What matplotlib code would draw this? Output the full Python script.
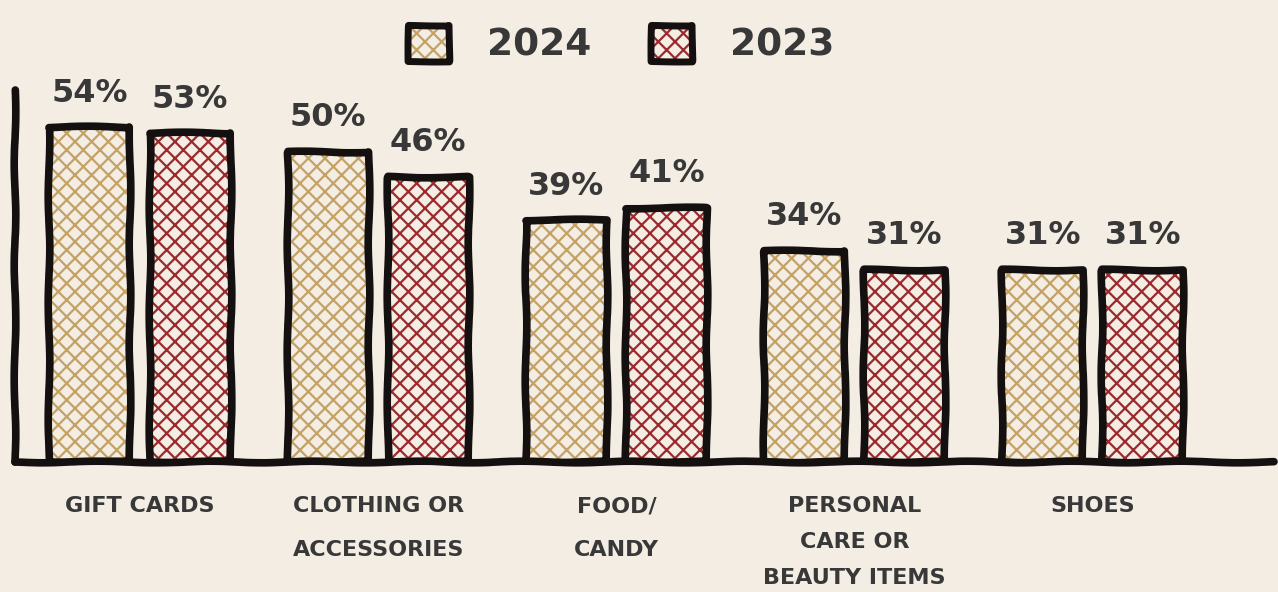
import numpy as np
import matplotlib.pyplot as plt
from matplotlib.patches import Patch, Rectangle

# Data
categories = ["GIFT CARDS", "CLOTHING OR\nACCESSORIES", "FOOD/\nCANDY",
              "PERSONAL\nCARE OR\nBEAUTY ITEMS", "SHOES"]
share_2024 = [54, 50, 39, 34, 31]
share_2023 = [53, 46, 41, 31, 31]

bg = "#f3ede3"
tan = "#c4a265"
red = "#9a2a2e"
ink = "#141010"
text_col = "#383838"

plt.xkcd(scale=0.8, length=120, randomness=2)
plt.rcParams['font.family'] = ['DejaVu Sans']
plt.rcParams['path.effects'] = []
plt.rcParams['hatch.linewidth'] = 1.6

fig = plt.figure(figsize=(12.78, 5.92), dpi=100, facecolor=bg)
fig.patch.set_linewidth(0)
ax = fig.add_axes([0.0117, 0.22, 0.985, 0.628])
ax.set_facecolor(bg)

x = np.arange(len(categories))
w = 0.34
off = 0.21

for vals, dx, col in [(share_2024, -off, tan), (share_2023, off, red)]:
    ax.bar(x + dx, vals, w, color=bg, edgecolor=col, hatch='xx', linewidth=0)
    ax.bar(x + dx, vals, w, fill=False, edgecolor=ink, linewidth=5.5,
           joinstyle='round', capstyle='round')
    for xi, v in zip(x + dx, vals):
        ax.text(xi, v + 3.0, f"{v}%", ha='center', va='bottom', fontsize=23,
                fontweight='bold', color=text_col)

ax.set_xlim(-0.525, 4.76)
ax.set_ylim(0, 60)
for s in ['top', 'right']:
    ax.spines[s].set_visible(False)
for s in ['left', 'bottom']:
    ax.spines[s].set_linewidth(5.5)
    ax.spines[s].set_color(ink)
    ax.spines[s].set_capstyle('round')
ax.set_yticks([])
ax.set_xticks(x)
ax.set_xticklabels(categories, fontsize=16, fontweight='bold', color=text_col)
for lab in ax.get_xticklabels():
    nlines = lab.get_text().count("\n") + 1
    lab.set_linespacing(2.0 if nlines > 2 else 2.45)
ax.tick_params(axis='x', length=0, pad=25)

handles = []
for col in [tan, red]:
    handles.append((Patch(facecolor=bg, edgecolor=col, hatch='xx', linewidth=0),
                    Patch(fill=False, edgecolor=ink, linewidth=5)))
leg = fig.legend(handles, ["2024", "2023"], loc='upper center', ncol=2,
                 bbox_to_anchor=(0.486, 1.015), frameon=False,
                 handlelength=1.1, handleheight=1.1, columnspacing=1.6,
                 handletextpad=1.0,
                 prop={'weight': 'bold', 'size': 27})
for t in leg.get_texts():
    t.set_color(text_col)
for r in leg.findobj(Rectangle):
    if not r.get_fill():
        r.set_joinstyle('round')
        r.set_capstyle('round')
        r.set_sketch_params(scale=0.5, length=120, randomness=2)

fig.savefig("out.png", dpi=100, facecolor=bg)
